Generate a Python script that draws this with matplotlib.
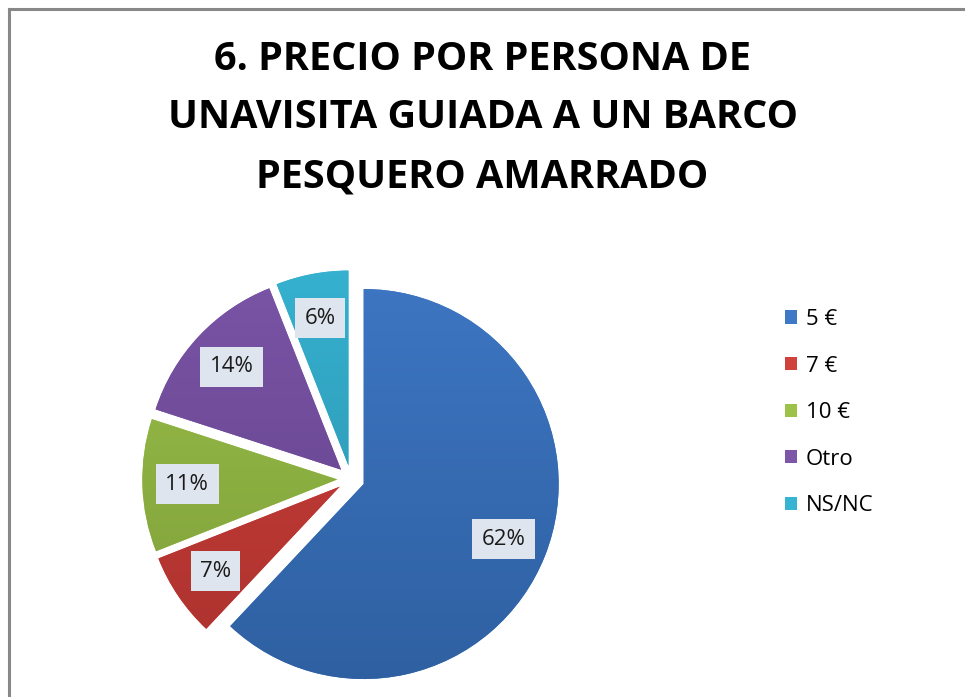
import numpy as np
import matplotlib
matplotlib.use("Agg")
import matplotlib.pyplot as plt
from matplotlib.lines import Line2D
from matplotlib.colors import LinearSegmentedColormap

title = "6. PRECIO POR PERSONA DE\nUNAVISITA GUIADA A UN BARCO\nPESQUERO AMARRADO"
categories = ["5 €", "7 €", "10 €", "Otro", "NS/NC"]
values = [62, 7, 11, 14, 6]
colors_top = ["#3f78c6", "#d0413c", "#9cc24a", "#7d56a8", "#36b4d2"]
colors_bot = ["#2d5e9e", "#a8302c", "#7a9a38", "#5d3e86", "#2a8aa6"]

W, H = 965, 697
fig = plt.figure(figsize=(W / 100, H / 100), dpi=100)
fig.patch.set_facecolor("white")

# pie axes
R = 195
lim = 1.25
side = 2 * lim * R
cx, cy = 351, 479
ax = fig.add_axes([(cx - side / 2) / W, ((H - cy) - side / 2) / H, side / W, side / H])

wedges, texts, autotexts = ax.pie(
    values,
    colors=colors_top,
    startangle=90,
    counterclock=False,
    explode=[0.07] * len(values),
    autopct="%1.0f%%",
    pctdistance=0.77,
    wedgeprops=dict(linewidth=0),
    textprops=dict(fontsize=16, color="#1a1a1a", family=["Open Sans", "DejaVu Sans"]),
)
ax.set_xlim(-lim, lim)
ax.set_ylim(-lim, lim)
ax.set_aspect("equal")
ax.axis("off")

# vertical gradient inside each wedge
grad = np.linspace(1, 0, 256).reshape(-1, 1)
for w, ct, cb in zip(wedges, colors_top, colors_bot):
    cmap = LinearSegmentedColormap.from_list("g", [cb, ct])
    im = ax.imshow(grad, cmap=cmap, extent=[-lim, lim, -lim, lim], origin="upper",
                   aspect="auto", zorder=w.get_zorder() + 0.01)
    im.set_clip_path(w)

for t in autotexts:
    t.set_zorder(5)
    t.set_bbox(dict(boxstyle="square,pad=0.42", facecolor="#dfe5ee", edgecolor="none"))

# legend
leg = fig.legend(
    wedges, categories,
    loc="upper left", bbox_to_anchor=(765 / W, 1 - 289 / H),
    frameon=False, handlelength=0.55, handleheight=0.55, handletextpad=0.4,
    labelspacing=1.15, prop=dict(family=["Open Sans", "DejaVu Sans"], size=16),
)
for h, c in zip(leg.legend_handles, colors_top):
    h.set_facecolor(c)

fig.text(0.5, 1 - 118 / H, title, ha="center", va="center", fontsize=28.5,
         fontweight="bold", family=["Open Sans", "DejaVu Sans"],
         linespacing=1.65, color="black")

# frame lines (left and top)
fig.add_artist(Line2D([9 / W, 9 / W], [0, 1 - 9 / H], color="#888888", lw=2.2, transform=fig.transFigure))
fig.add_artist(Line2D([9 / W, 1], [1 - 9 / H, 1 - 9 / H], color="#888888", lw=2.2, transform=fig.transFigure))

fig.savefig("out.png", dpi=100, facecolor="white")
